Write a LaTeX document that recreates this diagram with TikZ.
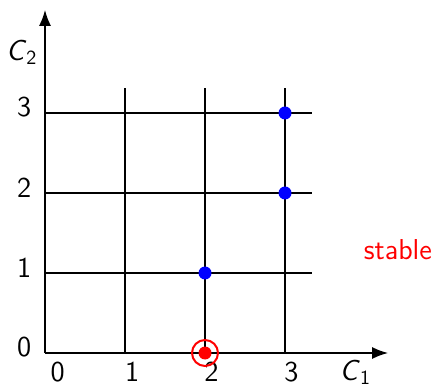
\documentclass[tikz,border=0pt]{standalone}
\usepackage{tikz}
\usetikzlibrary{arrows.meta}
\begin{document}
\begin{tikzpicture}[x=40pt,y=40pt,
  font=\sffamily\Large,
  axis/.style={line width=1pt,-{Latex[length=8pt,width=6pt]}},
  gridline/.style={line width=1pt},
  dot/.style={circle,fill=blue,inner sep=0pt,minimum size=6.5pt},
  lbl/.style={inner sep=0pt}]
\useasboundingbox (-0.5625,-0.3875) rectangle (4.9,4.4125);
\coordinate (O) at (0,0);
\coordinate (xe) at (4.29,0);
\coordinate (ye) at (0,4.29);
\foreach \i in {1,2,3}{
  \draw[gridline] (0,\i) -- (3.34,\i);
  \draw[gridline] (\i,0) -- (\i,3.31);
}
\draw[axis] (O) -- (xe);
\draw[axis] (O) -- (ye);
\foreach \i in {0,1,2,3}{
  \node[lbl] (yl\i) at (-0.26,\i+0.07) {\i};
}
\node[lbl] (xl0) at (0.16,-0.24) {0};
\node[lbl] (xl1) at (1.09,-0.24) {1};
\node[lbl] (xl2) at (2.08,-0.24) {2};
\node[lbl] (xl3) at (3.08,-0.24) {3};
\node[lbl] (c1) at (3.88,-0.24) {\textit{C}\textsubscript{1}};
\node[lbl] (c2) at (-0.29,3.76) {\textit{C}\textsubscript{2}};
\node[lbl,text=red] (st) at (4.41,1.29) {stable};
\node[dot] (p1) at (2,1) {};
\node[dot] (p2) at (3,2) {};
\node[dot] (p3) at (3,3) {};
\node[dot,fill=red] (p0) at (2,0) {};
\draw[red,line width=1pt] (p0) circle[radius=6.5pt];
\end{tikzpicture}
\end{document}
